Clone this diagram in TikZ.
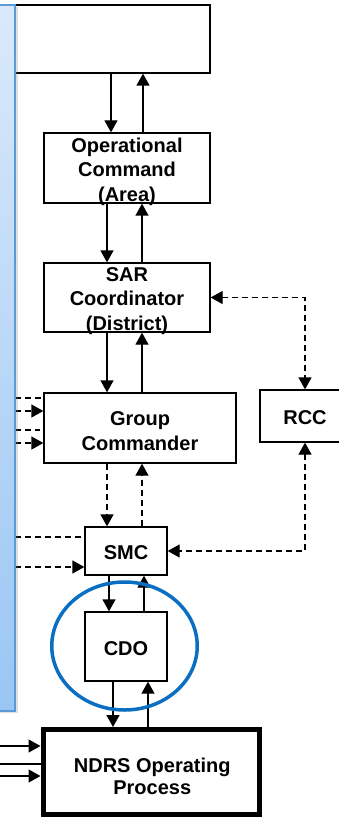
\documentclass[tikz,border=0pt]{standalone}
\usepackage{fontspec}
\setmainfont{Liberation Sans}
\usetikzlibrary{arrows.meta,shadows}
\definecolor{ptop}{HTML}{DAE9FB}
\definecolor{pbot}{HTML}{9AC6F3}
\definecolor{pedge}{HTML}{5B9BD5}
\definecolor{ringc}{HTML}{0A6FC2}
\begin{document}
\begin{tikzpicture}[x=1pt,y=-1pt,
  box/.style={draw=black, line width=1.3pt, inner sep=0pt},
  txt/.style={inner sep=0pt, align=center,
    font=\bfseries\fontsize{20}{24.5}\selectfont},
  arr/.style={line width=1.3pt, -{Triangle[length=12pt,width=13pt]}},
  darr/.style={arr, dash pattern=on 6pt off 4pt},
  dl/.style={line width=1.3pt, dash pattern=on 6pt off 4pt},
  dboth/.style={line width=1.3pt, dash pattern=on 6pt off 4pt,
    {Triangle[length=12pt,width=13pt]}-{Triangle[length=12pt,width=13pt]}},
  sl/.style={line width=1.3pt}
]
\useasboundingbox (0,0) rectangle (339,818);
\clip (0,0) rectangle (339,818);

% boxes
\node[box, minimum width=205pt, minimum height=68pt] (top) at (107.5,39) {};
\node[box, minimum width=166pt, minimum height=70pt] (op) at (127,168) {};
\node[box, minimum width=166pt, minimum height=69pt] (sar) at (127,297.5) {};
\node[box, minimum width=192pt, minimum height=70pt] (gc) at (140,428) {};
\node[box, minimum width=90pt, minimum height=52pt] (rcc) at (305,416) {};
\node[box, minimum width=82pt, minimum height=48pt] (smc) at (126,551) {};
\node[box, minimum width=82pt, minimum height=69pt] (cdo) at (126,646.5) {};
\node[box, line width=5pt, minimum width=216.5pt, minimum height=85pt] (ndrs) at (151.25,772) {};

% texts
\node[txt] (opT) at ([yshift=-3.7pt]op.center) {Operational\\Command\\(Area)};
\node[txt] (sarT) at ([yshift=-3.2pt]sar.center) {SAR\\Coordinator\\(District)};
\node[txt] (gcT) at ([yshift=-3pt]gc.center) {Group\\Commander};
\node[txt] (rccT) at ([yshift=-1.5pt]rcc.center) {RCC};
\node[txt] (smcT) at ([yshift=-1.5pt]smc.center) {SMC};
\node[txt] (cdoT) at ([yshift=-2.3pt]cdo.center) {CDO};
\node[txt, font=\bfseries\fontsize{20}{22.5}\selectfont] (ndrsT)
  at ([xshift=1pt,yshift=-4.5pt]ndrs.center) {NDRS Operating\\Process};

% x positions of vertical connectors
\coordinate (xa) at (111,0);
\coordinate (xb) at (143,0);
\coordinate (xc) at (107,0);
\coordinate (xd) at (142,0);
\coordinate (xe) at (109,0);
\coordinate (xf) at (144,0);
\coordinate (xg) at (113,0);
\coordinate (xh) at (148,0);

\draw[arr] (top.south -| xa) -- (op.north -| xa);
\draw[arr] (op.north -| xb) -- (top.south -| xb);
\draw[arr] (op.south -| xc) -- (sar.north -| xc);
\draw[arr] (sar.north -| xd) -- (op.south -| xd);
\draw[arr] (sar.south -| xc) -- (gc.north -| xc);
\draw[arr] (gc.north -| xd) -- (sar.south -| xd);
\draw[darr] (gc.south -| xc) -- (smc.north -| xc);
\draw[darr] (smc.north -| xd) -- (gc.south -| xd);
\draw[arr] (smc.south -| xe) -- (cdo.north -| xe);
\draw[arr] (cdo.north -| xf) -- (smc.south -| xf);
\draw[arr] (cdo.south -| xg) -- (ndrs.north -| xg);
\draw[arr] (ndrs.north -| xh) -- (cdo.south -| xh);

% RCC links
\draw[dboth] (sar.east) -| (rcc.north);
\draw[dboth] (rcc.south) |- (smc.east);

% stubs from the left
\coordinate (g1) at (5,398);
\coordinate (g2) at (5,411);
\coordinate (g3) at (5,430);
\coordinate (g4) at (5,443);
\coordinate (s1) at (5,537);
\coordinate (s2) at (5,567);
\coordinate (n1) at (-5,746);
\coordinate (n2) at (-5,764);
\coordinate (n3) at (-5,776);
\draw[dl] (g1) -- (g1 -| gc.west);
\draw[darr] (g2) -- (g2 -| gc.west);
\draw[dl] (g3) -- ([xshift=-3pt]g3 -| gc.west);
\draw[darr] (g4) -- (g4 -| gc.west);
\draw[dl] (s1) -- (s1 -| smc.west);
\draw[darr] (s2) -- (s2 -| smc.west);
\draw[arr] (n1) -- (n1 -| ndrs.west);
\draw[sl] (n2) -- (n2 -| ndrs.west);
\draw[arr] (n3) -- (n3 -| ndrs.west);

% left panel
\draw[draw=pedge, line width=2pt, top color=ptop, bottom color=pbot,
  drop shadow={shadow xshift=3pt, shadow yshift=-2pt, opacity=0.25}]
  (-5,5) rectangle (15,711);

% highlight ring
\draw[ringc, line width=3.5pt] (124.5,646) ellipse [x radius=72.75, y radius=64];
\end{tikzpicture}
\end{document}
